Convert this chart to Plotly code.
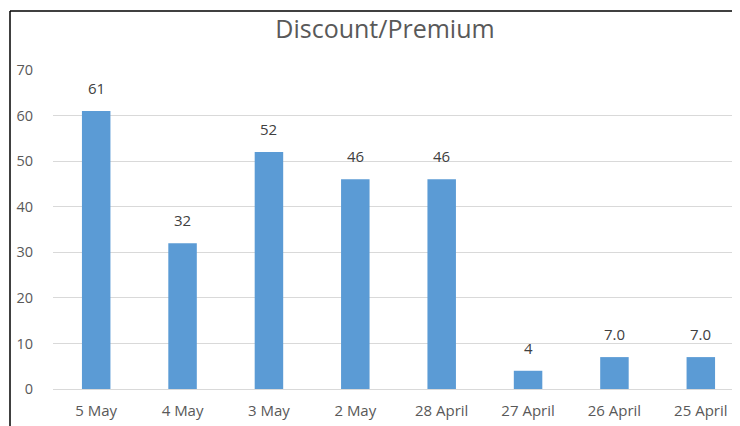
import plotly.graph_objects as go

categories = ["5 May", "4 May", "3 May", "2 May", "28 April", "27 April", "26 April", "25 April"]
values = [61, 32, 52, 46, 46, 4, 7, 7]
labels = ["61", "32", "52", "46", "46", "4", "7.0", "7.0"]
y_ticks = [0, 10, 20, 30, 40, 50, 60, 70]

W, H = 740, 426
OFF = 8  # page body margin offset
ml, mr, mt, mb = 53 - OFF, 4, 70 - OFF, 45
pw, ph = W - ml - mr, H - mt - mb

def px_x(p):  # page pixel -> paper x
    return (p - OFF - ml) / pw

def px_y(p):  # page pixel -> paper y
    return (H - mb - (p - OFF)) / ph

fig = go.Figure()
fig.add_trace(go.Bar(x=categories, y=values, marker=dict(color="#5B9BD5", line=dict(width=0)),
                     hoverinfo="skip"))

for c, v, t in zip(categories, values, labels):
    fig.add_annotation(x=c, y=v, text=t, showarrow=False, yanchor="bottom", yshift=11,
                       font=dict(size=15, color="#404040", family="Open Sans"))

# border lines (top and left visible)
fig.add_shape(type="line", xref="paper", yref="paper", x0=px_x(10), x1=px_x(760), y0=px_y(11), y1=px_y(11),
              line=dict(color="black", width=1.5))
fig.add_shape(type="line", xref="paper", yref="paper", x0=px_x(10), x1=px_x(10), y0=px_y(11), y1=px_y(450),
              line=dict(color="black", width=1.5))

fig.update_layout(
    width=W, height=H,
    margin=dict(l=ml, r=mr, t=mt, b=mb),
    paper_bgcolor="white", plot_bgcolor="white",
    bargap=0.67,
    showlegend=False,
    title=dict(text="Discount/Premium", x=(385 - OFF) / W, xanchor="center", y=1 - (29 - OFF) / H,
               yanchor="middle", font=dict(size=25, color="#595959", family="Open Sans")),
    font=dict(family="Open Sans", color="#595959"),
    xaxis=dict(tickfont=dict(size=15, color="#595959"), showline=False, ticks="", ticklabelstandoff=11,
               showgrid=False),
    yaxis=dict(range=[0, 70], tickvals=y_ticks, tickfont=dict(size=14.5, color="#595959"),
               showgrid=True, gridcolor="#D9D9D9", gridwidth=1, zeroline=True, zerolinecolor="#D9D9D9",
               zerolinewidth=1, showline=False, ticks="", ticklabelstandoff=19),
)

fig.write_html("out.html")
